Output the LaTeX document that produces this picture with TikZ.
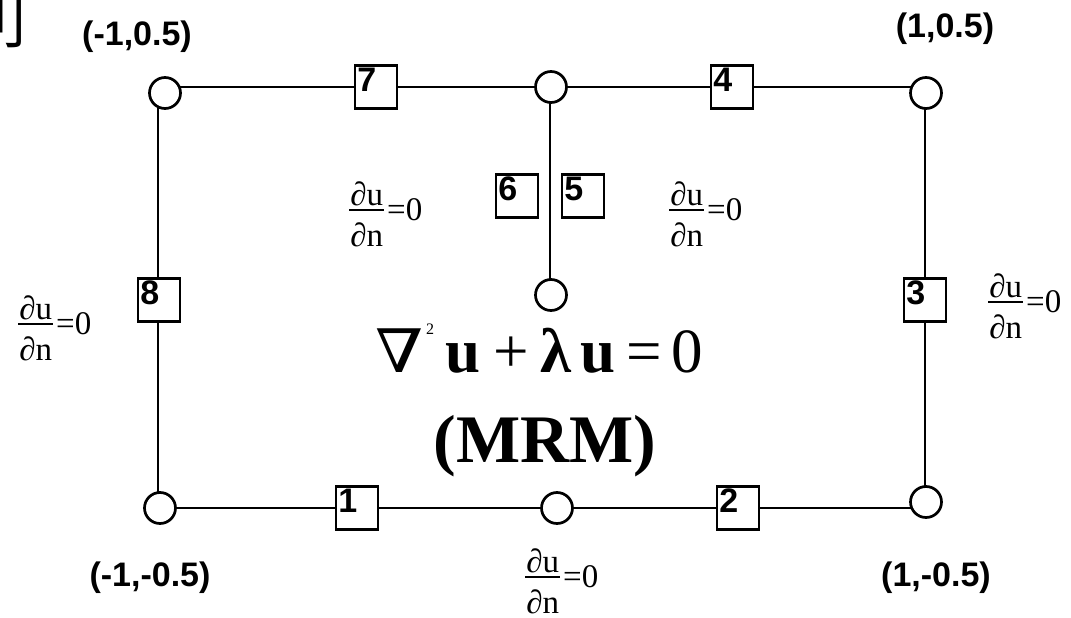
\documentclass[tikz,border=0pt]{standalone}
\usepackage{graphicx}
\usepackage{fontspec}
\setmainfont{Liberation Serif}
\newfontfamily\arialf{Liberation Sans}
\newfontfamily\dvserif{DejaVu Serif}
\newfontfamily\cjkf{Noto Sans CJK SC}
% fraction du/dn = 0 ; bar 35pt wide, 10pt above the baseline
\newcommand{\dudnlabel}{\makebox[37pt][c]{%
  \makebox[0pt][c]{\raisebox{15pt}{∂u}}%
  \makebox[0pt][c]{\raisebox{9.2pt}{\rule{35pt}{1.6pt}}}%
  \makebox[0pt][c]{\raisebox{-26pt}{∂n}}}\kern2pt=0}
\newcommand{\gl}[2]{\makebox[#1pt][c]{#2}}
\tikzset{
  wire/.style={line width=2.7pt},
  vtx/.style={circle, draw, fill=white, line width=2.7pt, minimum size=31pt, inner sep=0pt},
  segbox/.style={draw, fill=white, line width=2.5pt, minimum width=42pt, minimum height=43pt, inner sep=0pt},
  boxnum/.style={anchor=north west, inner sep=3.3pt, font=\arialf\bfseries\fontsize{34}{34}\selectfont},
  coordlbl/.style={font=\arialf\bfseries\fontsize{34}{34}\selectfont, inner sep=0pt},
  bclbl/.style={font=\fontsize{33}{35}\selectfont, inner sep=0pt, anchor=base west},
}
\begin{document}
\begin{tikzpicture}[x=1pt,y=-1pt]
\useasboundingbox (0,0) rectangle (1071,618);
% corner / junction points of the wires
\coordinate (pTL) at (158,87);
\coordinate (pTM) at (550,87);
\coordinate (pTR) at (925,87);
\coordinate (pBL) at (158,508);
\coordinate (pBM) at (557,508);
\coordinate (pBR) at (925,508);
\coordinate (pMid) at (550,295);
% wires
\draw[wire] (pTL) -- (pTM) -- (pTR) -- (pBR) -- (pBM) -- (pBL) -- cycle;
\draw[wire] (pTM) -- (pMid);
% vertices
\node[vtx] (cTL) at (165,93) {};
\node[vtx] (cTM) at (551,87) {};
\node[vtx] (cTR) at (926,93) {};
\node[vtx] (cBL) at (160,508) {};
\node[vtx] (cBM) at (557,508) {};
\node[vtx] (cBR) at (926,502) {};
\node[vtx] (cMid) at (551,295) {};
% segment boxes
\node[segbox, label={[boxnum]north west:1}] (b1) at (357,508) {};
\node[segbox, label={[boxnum]north west:2}] (b2) at (738,508) {};
\node[segbox, label={[boxnum]north west:3}] (b3) at (925,300) {};
\node[segbox, label={[boxnum]north west:4}] (b4) at (732,87) {};
\node[segbox, label={[boxnum]north west:5}] (b5) at (583,196) {};
\node[segbox, label={[boxnum]north west:6}] (b6) at (517,196) {};
\node[segbox, label={[boxnum]north west:7}] (b7) at (376,87) {};
\node[segbox, label={[boxnum]north west:8}] (b8) at (159,300) {};
% coordinates
\node[coordlbl] (tTL) at (137,37) {(-1,0.5)};
\node[coordlbl] (tTR) at (945,29) {(1,0.5)};
\node[coordlbl] (tBL) at (150,578) {(-1,-0.5)};
\node[coordlbl] (tBR) at (936,578) {(1,-0.5)};
% boundary conditions
\node[bclbl] (n1) at (17,334) {\dudnlabel};
\node[bclbl] (n2) at (348,220) {\dudnlabel};
\node[bclbl] (n3) at (668,220) {\dudnlabel};
\node[bclbl] (n4) at (987,312) {\dudnlabel};
\node[bclbl] (n5) at (524,587) {\dudnlabel};
% equation
\node[inner sep=0pt, anchor=base west] (eq) at (375,372) {\fontsize{63}{66}\selectfont
  \gl{48}{\scalebox{1.15}[1]{\dvserif\fontsize{60}{60}\selectfont ∇}}\gl{14}{\raisebox{38pt}{\fontsize{16}{16}\selectfont 2}}\gl{52}{\bfseries u}\gl{45}{+}\gl{43}{\bfseries λ}\gl{42}{\bfseries u}\gl{50}{=}\gl{36}{0}};
\node[inner sep=0pt, anchor=base] (mrm) at (545,462) {\fontsize{68}{70}\selectfont\bfseries (MRM)};
% cut-off character at the top left
\node[inner sep=0pt, anchor=north west] (frag) at (0,-6) {\makebox[22pt][r]{\cjkf\fontsize{60}{60}\selectfont 刂\kern-6.5pt}};
\end{tikzpicture}
\end{document}
